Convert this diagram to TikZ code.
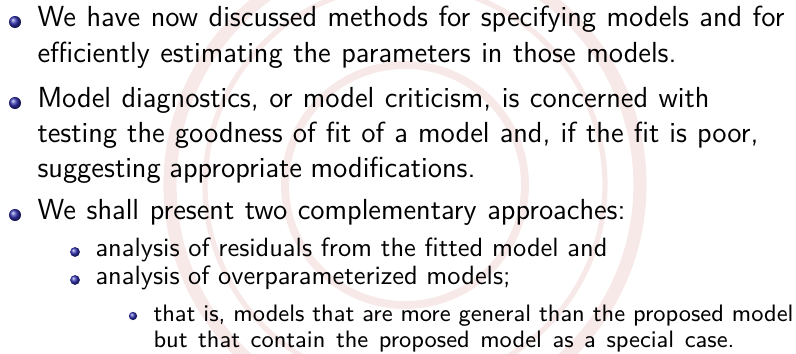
\documentclass[tikz,border=0pt]{standalone}
\definecolor{ballblue}{rgb}{0.2,0.2,0.7}
\definecolor{sealpink}{RGB}{248,233,233}
\newlength\pxunit
\setlength\pxunit{0.0133cm}
\newcommand{\pxline}[2]{\makebox[#1\pxunit][s]{#2}}
\tikzset{
  ballone/.style={circle, inner sep=0pt, minimum size=0.16cm, shading=ball, ball color=ballblue},
  balltwo/.style={circle, inner sep=0pt, minimum size=0.13cm, shading=ball, ball color=ballblue},
  ballthree/.style={circle, inner sep=0pt, minimum size=0.11cm, shading=ball, ball color=ballblue},
  itemone/.style={anchor=base west, inner sep=0pt, font=\sffamily\fontsize{11}{13.4}\selectfont},
  itemtwo/.style={anchor=base west, inner sep=0pt, font=\sffamily\fontsize{10}{10.6}\selectfont},
  itemthree/.style={anchor=base west, inner sep=0pt, font=\sffamily\fontsize{9}{9.8}\selectfont},
  seal/.style={draw=sealpink, line width=5pt}
}
\begin{document}
\begin{tikzpicture}[x=0.0133cm, y=-0.0133cm]
  \useasboundingbox (0,0) rectangle (796,354);
  \clip (0,0) rectangle (796,354);
  \draw[seal] (405,185) circle (235);
  \draw[seal, line width=2pt] (405,185) circle (200);
  \draw[seal, line width=3pt] (405,185) circle (120);
  \node[itemone] (a1) at (37,27) {\pxline{747}{We have now discussed methods for specifying models and for}};
  \node[itemone] (a2) at (37,63) {\pxline{639}{efficiently estimating the parameters in those models.}};
  \node[itemone] (b1) at (37,108) {\pxline{672}{Model diagnostics, or model criticism, is concerned with}};
  \node[itemone] (b2) at (37,143) {\pxline{721}{testing the goodness of fit of a model and, if the fit is poor,}};
  \node[itemone] (b3) at (37,178) {\pxline{438}{suggesting appropriate modifications.}};
  \node[itemone] (c) at (37,220) {\pxline{588}{We shall present two complementary approaches:}};
  \node[itemtwo] (c1) at (95,257) {\pxline{512}{analysis of residuals from the fitted model and}};
  \node[itemtwo] (c2) at (95,285) {\pxline{415}{analysis of overparameterized models;}};
  \node[itemthree] (c2a1) at (153,322) {\pxline{640}{that is, models that are more general than the proposed model}};
  \node[itemthree] (c2a2) at (153,348) {\pxline{581}{but that contain the proposed model as a special case.}};
  \node[ballone] at (15,22) {};
  \node[ballone] at (15,103) {};
  \node[ballone] at (15,215) {};
  \node[balltwo] at (75,252) {};
  \node[balltwo] at (75,280) {};
  \node[ballthree] at (133,316) {};
\end{tikzpicture}
\end{document}
